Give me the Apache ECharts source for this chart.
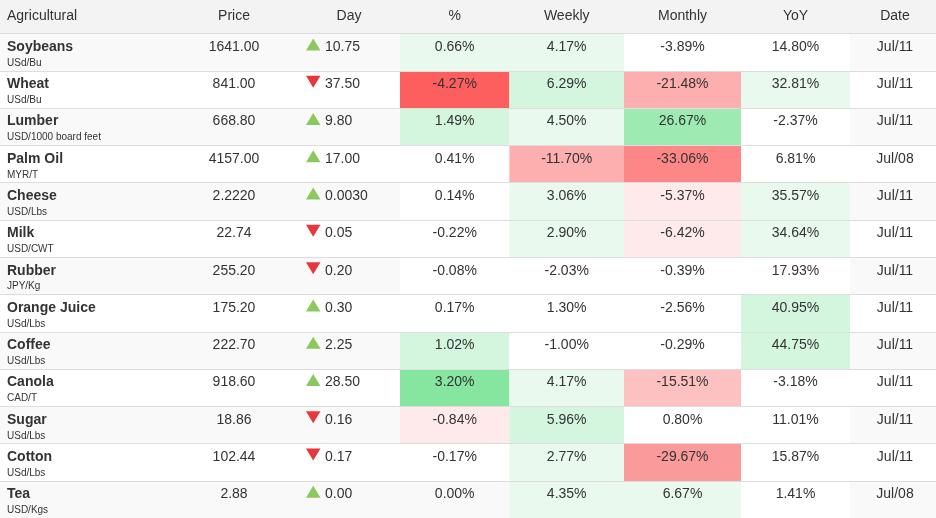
<!DOCTYPE html>
<html>
<head>
<meta charset="utf-8">
<script src="https://cdn.jsdelivr.net/npm/echarts@6/dist/echarts.min.js"></script>
<style>
  html, body { margin: 0; padding: 0; background: #fff; }
  #main { width: 936px; height: 518px; }
</style>
</head>
<body>
<div id="main"></div>
<script>
  // table data
  var headers = ['Agricultural', 'Price', 'Day', '%', 'Weekly', 'Monthly', 'YoY', 'Date'];
  var names = ['Soybeans', 'Wheat', 'Lumber', 'Palm Oil', 'Cheese', 'Milk', 'Rubber',
               'Orange Juice', 'Coffee', 'Canola', 'Sugar', 'Cotton', 'Tea'];
  var units = ['USd/Bu', 'USd/Bu', 'USD/1000 board feet', 'MYR/T', 'USD/Lbs', 'USD/CWT', 'JPY/Kg',
               'USd/Lbs', 'USd/Lbs', 'CAD/T', 'USd/Lbs', 'USd/Lbs', 'USD/Kgs'];
  var prices = ['1641.00', '841.00', '668.80', '4157.00', '2.2220', '22.74', '255.20',
                '175.20', '222.70', '918.60', '18.86', '102.44', '2.88'];
  var dayChange = ['10.75', '-37.50', '9.80', '17.00', '0.0030', '-0.05', '-0.20',
                   '0.30', '2.25', '28.50', '-0.16', '-0.17', '0.00'];
  var pctChange = [0.66, -4.27, 1.49, 0.41, 0.14, -0.22, -0.08, 0.17, 1.02, 3.20, -0.84, -0.17, 0.00];
  var weekly = [4.17, 6.29, 4.50, -11.70, 3.06, 2.90, -2.03, 1.30, -1.00, 4.17, 5.96, 2.77, 4.35];
  var monthly = [-3.89, -21.48, 26.67, -33.06, -5.37, -6.42, -0.39, -2.56, -0.29, -15.51, 0.80, -29.67, 6.67];
  var yoy = [14.80, 32.81, -2.37, 6.81, 35.57, 34.64, 17.93, 40.95, 44.75, -3.18, 11.01, 15.87, 1.41];
  var dates = ['Jul/11', 'Jul/11', 'Jul/11', 'Jul/08', 'Jul/11', 'Jul/11', 'Jul/11',
               'Jul/11', 'Jul/11', 'Jul/11', 'Jul/11', 'Jul/11', 'Jul/08'];

  // layout (x in pixels, the x axis runs 0..936)
  var FONT = '"Liberation Sans", Arial, Helvetica, sans-serif';
  var TEXT = '#333';
  var headerX = [7, 234, 349, 454.7, 566.7, 682.5, 795.5, 895];
  var cellCols = [[400, 509.4], [509.4, 624], [624, 741], [741, 850]];

  var myChart = echarts.init(document.getElementById('main'));

  function rowBox(api, i) {
    var c = api.coord([0, i]);
    var h = api.size([0, 1])[1];
    var top = c[1] - h / 2;
    return { cy: c[1], top: Math.round(top), bottom: Math.round(top + h) };
  }

  function txt(x, y, s, size, weight, align) {
    return {
      type: 'text',
      style: {
        text: s, x: x, y: y, fill: TEXT,
        fontSize: size, fontWeight: weight || 'normal', fontFamily: FONT,
        align: align || 'left', verticalAlign: 'middle'
      }
    };
  }

  function renderRow(params, api) {
    var i = api.value(1);
    var b = rowBox(api, i);
    var px = function (x) { return api.coord([x, i])[0]; };
    var down = dayChange[i].charAt(0) === '-';
    var tri = down
      ? [[px(306), b.cy - 13.5], [px(320.5), b.cy - 13.5], [px(313.2), b.cy - 1.5]]
      : [[px(306), b.cy - 1.5], [px(320.5), b.cy - 1.5], [px(313.2), b.cy - 13.5]];
    return {
      type: 'group',
      children: [
        { type: 'rect', shape: { x: px(0), y: b.top, width: px(936) - px(0), height: b.bottom - b.top },
          style: { fill: i % 2 === 0 ? '#f9f9f9' : '#ffffff' } },
        { type: 'line', shape: { x1: px(0), y1: b.top + 0.5, x2: px(936), y2: b.top + 0.5 },
          style: { stroke: '#dddddd', lineWidth: 1 } },
        txt(px(7), b.cy - 5, names[i], 14, 'bold'),
        txt(px(7), b.cy + 11, units[i], 10),
        txt(px(234), b.cy - 5, prices[i], 14, 'normal', 'center'),
        { type: 'polygon', shape: { points: tri }, style: { fill: down ? '#e8373c' : '#8bc95e' } },
        txt(px(325), b.cy - 5, dayChange[i].replace('-', ''), 14),
        txt(px(895), b.cy - 5, dates[i], 14, 'normal', 'center')
      ]
    };
  }

  function cellRenderer(k) {
    var x0 = cellCols[k][0], x1 = cellCols[k][1];
    return function (params, api) {
      var v = api.value(0);
      var i = api.value(1);
      var b = rowBox(api, i);
      var a = api.coord([x0, i])[0], z = api.coord([x1, i])[0];
      return {
        type: 'group',
        children: [
          { type: 'rect', shape: { x: a, y: b.top + 1, width: z - a, height: b.bottom - b.top - 1 },
            style: { fill: api.visual('color') } },
          txt((a + z) / 2, b.cy - 5, v.toFixed(2) + '%', 14, 'normal', 'center')
        ]
      };
    };
  }

  function cellSeries(k, values) {
    return {
      type: 'custom',
      name: headers[k + 3],
      renderItem: cellRenderer(k),
      data: values.map(function (v, i) { return [v, i]; }),
      encode: { x: 0, y: 1 }
    };
  }

  var G1 = '#e9f9ed', G2 = '#d4f5de', G3 = '#9debb3', G4 = '#86e69f';
  var R1 = '#feeaea', R2 = '#fdc1c1', R3 = '#fdaeae', R4 = '#fb9a9a', R5 = '#fd8787', R6 = '#fd5f5f';
  var W = '#ffffff';

  var headerGraphics = [
    { type: 'rect', shape: { x: 0, y: 0, width: 936, height: 33 }, style: { fill: '#f3f3f3' } },
    { type: 'line', shape: { x1: 0, y1: 33.5, x2: 936, y2: 33.5 }, style: { stroke: '#dddddd', lineWidth: 1 } }
  ];
  headers.forEach(function (h, k) {
    headerGraphics.push({
      type: 'text', x: headerX[k], y: 16,
      style: { text: h, fill: TEXT, fontSize: 14, fontFamily: FONT,
               align: k === 0 ? 'left' : 'center', verticalAlign: 'middle' }
    });
  });

  var option = {
    animation: false,
    grid: { left: 0, right: 0, top: 33.3, height: 485.6 },
    xAxis: { type: 'value', min: 0, max: 936, show: false },
    yAxis: { type: 'category', data: names, inverse: true, show: false },
    graphic: headerGraphics,
    visualMap: [
      { type: 'piecewise', show: false, seriesIndex: 1, dimension: 0, pieces: [
        { value: 0, color: 'rgba(0,0,0,0)' },
        { gte: 3, color: G4 }, { gte: 1, lt: 3, color: G2 }, { gte: 0.5, lt: 1, color: G1 },
        { gt: -0.5, lt: 0.5, color: W }, { gt: -1, lte: -0.5, color: R1 },
        { gt: -4, lte: -1, color: R2 }, { lte: -4, color: R6 }
      ] },
      { type: 'piecewise', show: false, seriesIndex: 2, dimension: 0, pieces: [
        { gte: 5, color: G2 }, { gte: 2.5, lt: 5, color: G1 }, { gt: -2.5, lt: 2.5, color: W },
        { gt: -10, lte: -2.5, color: R1 }, { lte: -10, color: R3 }
      ] },
      { type: 'piecewise', show: false, seriesIndex: 3, dimension: 0, pieces: [
        { gte: 25, color: G3 }, { gte: 10, lt: 25, color: G2 }, { gte: 5, lt: 10, color: G1 },
        { gt: -5, lt: 5, color: W }, { gt: -10, lte: -5, color: R1 }, { gt: -20, lte: -10, color: R2 },
        { gt: -25, lte: -20, color: R3 }, { gt: -30, lte: -25, color: R4 }, { lte: -30, color: R5 }
      ] },
      { type: 'piecewise', show: false, seriesIndex: 4, dimension: 0, pieces: [
        { gte: 40, color: G2 }, { gte: 20, lt: 40, color: G1 }, { gt: -20, lt: 20, color: W },
        { lte: -20, color: R1 }
      ] }
    ],
    series: [
      {
        type: 'custom',
        name: 'rows',
        renderItem: renderRow,
        data: names.map(function (n, i) { return [0, i]; }),
        encode: { x: 0, y: 1 }
      },
      cellSeries(0, pctChange),
      cellSeries(1, weekly),
      cellSeries(2, monthly),
      cellSeries(3, yoy)
    ]
  };

  myChart.setOption(option);
</script>
</body>
</html>
